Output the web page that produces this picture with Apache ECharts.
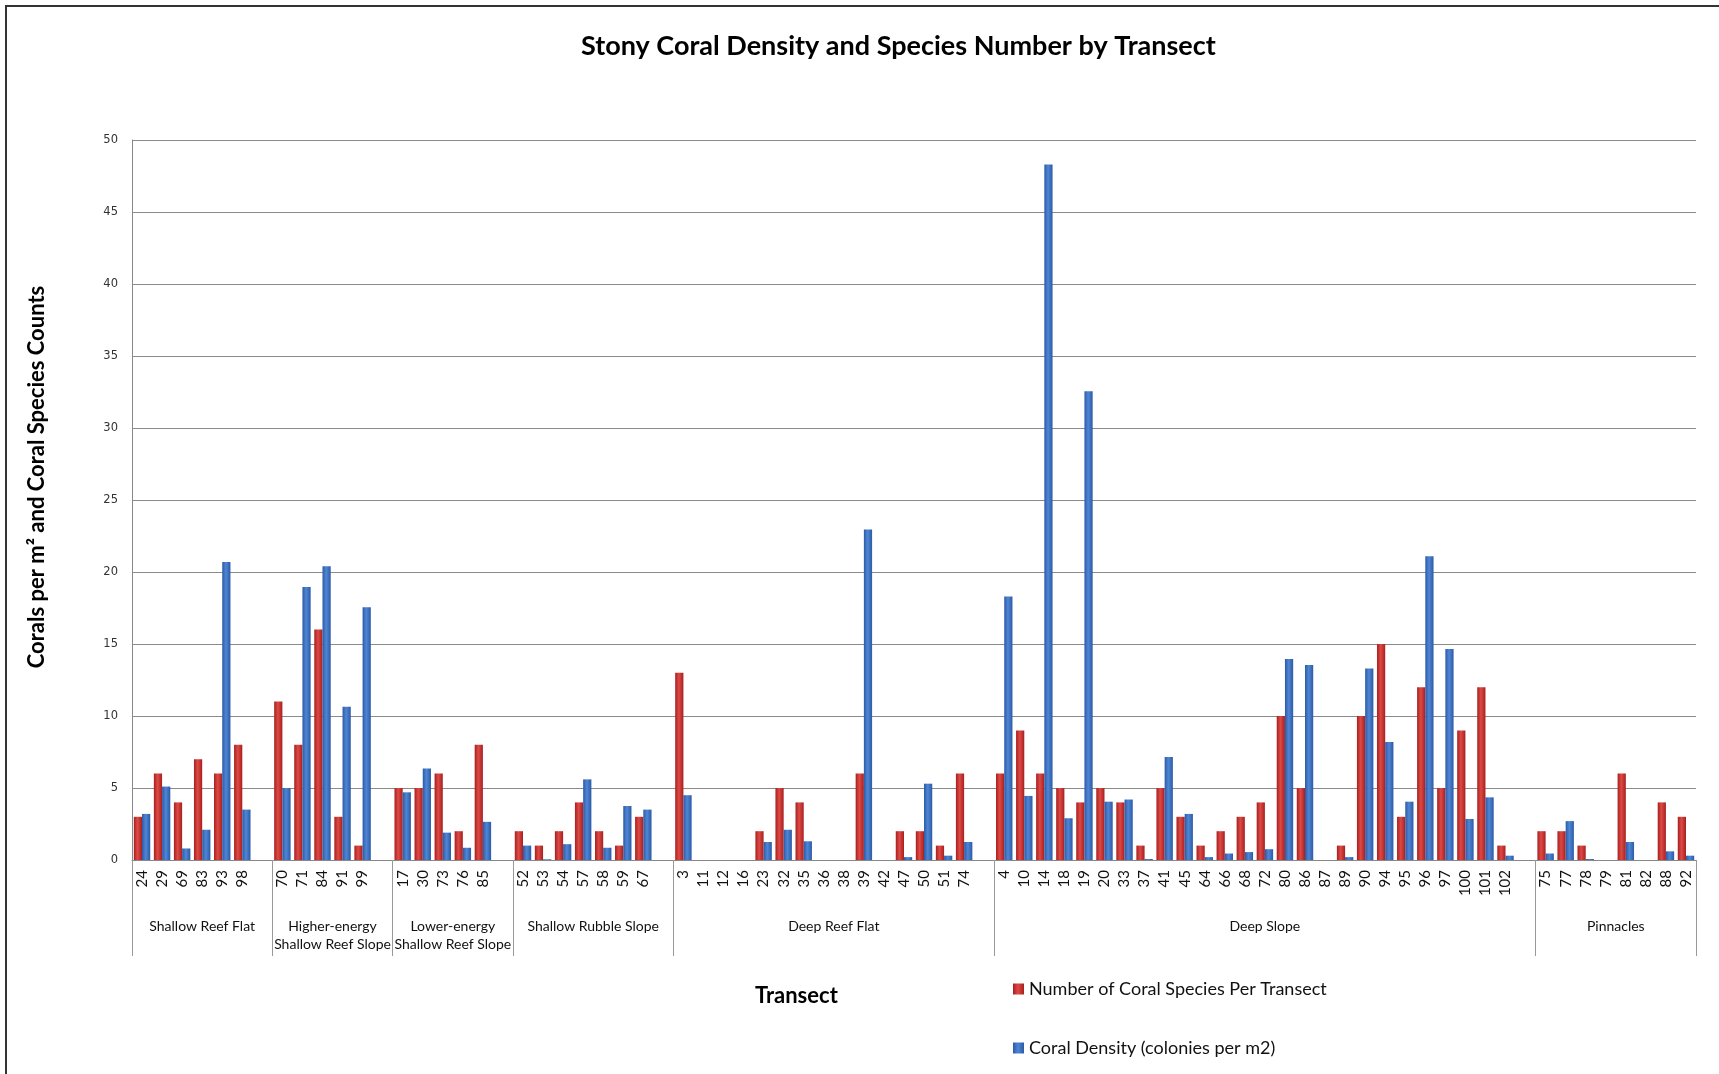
<!DOCTYPE html>
<html>
<head>
<meta charset="utf-8">
<title>Stony Coral Density and Species Number by Transect</title>
<script src="https://cdn.jsdelivr.net/npm/echarts@6/dist/echarts.min.js"></script>
<style>
  html, body { margin: 0; padding: 0; overflow: hidden; background: #fff; }
  #frame { position: absolute; left: 5px; top: 5px; width: 1730px; height: 1090px; border: 2px solid #333; }
  #chart { position: absolute; left: 0; top: 0; width: 1719px; height: 1074px; }
</style>
</head>
<body>
<div id="frame"></div>
<div id="chart"></div>
<script>
// habitat groups and how many transects each holds
const groupNames = [
  "Shallow Reef Flat",
  "Higher-energy\nShallow Reef Slope",
  "Lower-energy\nShallow Reef Slope",
  "Shallow Rubble Slope",
  "Deep Reef Flat",
  "Deep Slope",
  "Pinnacles",
];
const groupSizes = [6, 5, 5, 7, 15, 26, 8];

// transect ids, in axis order
const transects = [
  "24", "29", "69", "83", "93", "98",
  "70", "71", "84", "91", "99",
  "17", "30", "73", "76", "85",
  "52", "53", "54", "57", "58", "59", "67",
  "3", "11", "12", "16", "23", "32", "35", "36", "38", "39", "42", "47", "50", "51", "74",
  "4", "10", "14", "18", "19", "20", "33", "37", "41", "45", "64", "66", "68", "72", "80", "86", "87", "89", "90", "94", "95", "96", "97", "100", "101", "102",
  "75", "77", "78", "79", "81", "82", "88", "92",
];

// Number of Coral Species Per Transect
const species = [
  3, 6, 4, 7, 6, 8,
  11, 8, 16, 3, 1,
  5, 5, 6, 2, 8,
  2, 1, 2, 4, 2, 1, 3,
  13, 0, 0, 0, 2, 5, 4, 0, 0, 6, 0, 2, 2, 1, 6,
  6, 9, 6, 5, 4, 5, 4, 1, 5, 3, 1, 2, 3, 4, 10, 5, 0, 1, 10, 15, 3, 12, 5, 9, 12, 1,
  2, 2, 1, 0, 6, 0, 4, 3,
];

// Coral Density (colonies per m2)
const density = [
  3.2, 5.1, 0.8, 2.1, 20.7, 3.5,
  5.0, 18.95, 20.4, 10.65, 17.55,
  4.7, 6.35, 1.9, 0.85, 2.65,
  1.0, 0.05, 1.1, 5.6, 0.85, 3.75, 3.5,
  4.5, 0, 0, 0, 1.25, 2.1, 1.3, 0, 0, 22.95, 0, 0.2, 5.3, 0.3, 1.25,
  18.3, 4.45, 48.3, 2.9, 32.55, 4.05, 4.2, 0.07, 7.15, 3.2, 0.2, 0.45, 0.55, 0.75, 13.95, 13.55, 0, 0.2, 13.3, 8.2, 4.05, 21.1, 14.65, 2.85, 4.35, 0.3,
  0.45, 2.7, 0.07, 0, 1.25, 0, 0.6, 0.3,
];

const yTicks = { min: 0, max: 50, interval: 5 };

// Excel leaves one empty slot after every group but the last
const slotLabels = [];
const speciesSlots = [];
const densitySlots = [];
const groupStarts = [];
let k = 0;
groupSizes.forEach((n, g) => {
  groupStarts.push(slotLabels.length);
  for (let i = 0; i < n; i++, k++) {
    slotLabels.push(transects[k]);
    speciesSlots.push(species[k]);
    densitySlots.push(density[k]);
  }
  if (g < groupSizes.length - 1) {
    slotLabels.push("");
    speciesSlots.push(null);
    densitySlots.push(null);
  }
});
const nSlots = slotLabels.length;
groupStarts.push(nSlots);

// second axis on half-slot boundaries: ticks at group edges, names at group centres
const halfData = new Array(nSlots * 2 + 1).fill("");
const tickAt = new Set();
const labelAt = new Set();
groupNames.forEach((name, g) => {
  const s = groupStarts[g];
  const e = groupStarts[g + 1];
  halfData[s + e] = name;
  labelAt.add(s + e);
  tickAt.add(2 * s);
});
tickAt.add(2 * nSlots);

const FONT = "Lato";
const grad = (edge, mid) =>
  new echarts.graphic.LinearGradient(0, 0, 1, 0, [
    { offset: 0, color: edge },
    { offset: 0.45, color: mid },
    { offset: 1, color: edge },
  ]);

const chart = echarts.init(document.getElementById("chart"), null, { renderer: "canvas" });

const option = {
  animation: false,
  textStyle: { fontFamily: FONT },
  title: [
    {
      text: "Stony Coral Density and Species Number by Transect",
      left: 576,
      top: 28,
      textStyle: { fontFamily: FONT, fontSize: 27, fontWeight: "bold", color: "#000" },
    },
    {
      text: "Transect",
      left: 750,
      top: 980,
      textStyle: { fontFamily: FONT, fontSize: 22, fontWeight: "bold", color: "#000" },
    },
  ],
  legend: {
    orient: "vertical",
    left: 1008,
    top: 975,
    itemGap: 41,
    itemWidth: 11,
    itemHeight: 11,
    icon: "rect",
    textStyle: { fontFamily: FONT, fontSize: 18, color: "#111" },
    data: ["Number of Coral Species Per Transect", "Coral Density (colonies per m2)"],
  },
  grid: { left: 132, right: 23, top: 140, bottom: 214, containLabel: false },
  xAxis: [
    {
      type: "category",
      position: "bottom",
      data: slotLabels,
      axisLine: { lineStyle: { color: "#888", width: 1 } },
      axisTick: { show: false },
      axisLabel: { interval: 0, rotate: 90, margin: 10, fontFamily: FONT, fontSize: 15, color: "#111" },
      splitLine: { show: false },
    },
    {
      type: "category",
      position: "bottom",
      boundaryGap: false,
      data: halfData,
      axisLine: { show: false },
      axisTick: {
        show: true,
        length: 96,
        interval: (i) => tickAt.has(i),
        lineStyle: { color: "#999", width: 1 },
      },
      axisLabel: {
        interval: (i) => labelAt.has(i),
        margin: 57,
        fontFamily: FONT,
        fontSize: 14,
        lineHeight: 18,
        color: "#111",
      },
      splitLine: { show: false },
    },
  ],
  yAxis: {
    type: "value",
    min: yTicks.min,
    max: yTicks.max,
    interval: yTicks.interval,
    name: "Corals per m² and Coral Species Counts",
    nameLocation: "middle",
    nameGap: 84,
    nameTextStyle: { fontFamily: FONT, fontSize: 22, fontWeight: "bold", color: "#000", padding: [0, 0, 0, 46] },
    axisLine: { show: true, lineStyle: { color: "#888" } },
    axisTick: { show: false },
    axisLabel: { margin: 14, fontFamily: "DejaVu Sans", fontSize: 11.5, color: "#333" },
    splitLine: { lineStyle: { color: "#8a8a8a", width: 1 } },
  },
  series: [
    {
      name: "Number of Coral Species Per Transect",
      type: "bar",
      xAxisIndex: 0,
      data: speciesSlots,
      barGap: "0%",
      barCategoryGap: "18%",
      itemStyle: { color: grad("#a81f1f", "#dc4a45") },
    },
    {
      name: "Coral Density (colonies per m2)",
      type: "bar",
      xAxisIndex: 0,
      data: densitySlots,
      barGap: "0%",
      barCategoryGap: "18%",
      itemStyle: { color: grad("#2c5aa6", "#4f86d4") },
    },
  ],
};

chart.setOption(option);
</script>
</body>
</html>
